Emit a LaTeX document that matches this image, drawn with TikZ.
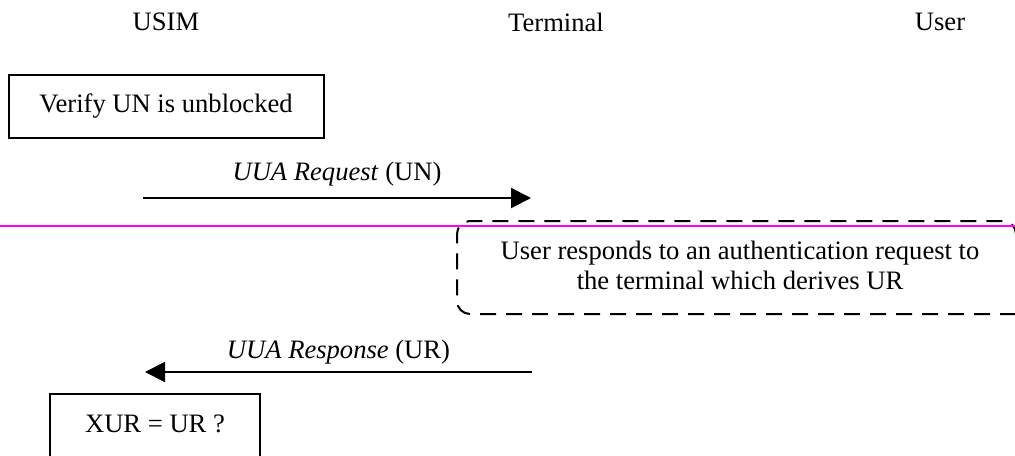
\documentclass[tikz,border=0pt]{standalone}
\usepackage{fontspec}
\setmainfont{Liberation Serif}
\usetikzlibrary{arrows.meta}
\definecolor{rose}{RGB}{255,0,255}

\begin{document}
\begin{tikzpicture}[x=0.5pt, y=-0.5pt,
    font=\fontsize{13.3}{15}\selectfont,
    boite/.style={draw, line width=1pt, inner sep=0pt},
    message/.style={line width=1pt, -{Triangle[length=10pt, width=10pt]}},
    pointille/.style={line width=1pt, dash pattern=on 8pt off 5pt, rounded corners=6.5pt}]
    \useasboundingbox (0,0) rectangle (1015,455);
    \clip (0,0) rectangle (1015,455);
    % Entités
    \node at (166,22) (usim) {USIM};
    \node at (556,22) (terminal) {Terminal};
    \node at (940,22) (user) {User};
    % Vérification
    \node[boite, minimum width=157.5pt, minimum height=31.5pt] at (166,106.5) (verif) {Verify UN is unblocked};
    % Requête
    \coordinate (req-a) at (143,198);
    \coordinate (req-b) at (531,198);
    \draw[message] (req-a) -- node[midway, above=5.5pt, inner sep=0pt] (req) {\textit{UUA Request} (UN)} (req-b);
    % Action de l'utilisateur
    \draw[pointille] (1016,314) -- (457,314) -- (457,221) -- (1016,221) -- (1016,314);
    \node[align=center] at (740,265) (action) {User responds to an authentication request to\\the terminal which derives UR};
    % Séparation
    \coordinate (sep-g) at (0,226);
    \coordinate (sep-d) at (1015,226);
    \draw[rose, line width=1pt] (sep-g) -- (sep-d);
    % Réponse
    \coordinate (rep-a) at (532,372);
    \coordinate (rep-b) at (145,372);
    \draw[message] (rep-a) -- node[midway, above=3.5pt, inner sep=0pt] (rep) {\textit{UUA Response} (UR)} (rep-b);
    % Comparaison
    \node[boite, anchor=north, minimum width=105pt, inner ysep=10.5pt, text depth=30pt] at (155,393) (xur) {XUR = UR ?};
\end{tikzpicture}
\end{document}
